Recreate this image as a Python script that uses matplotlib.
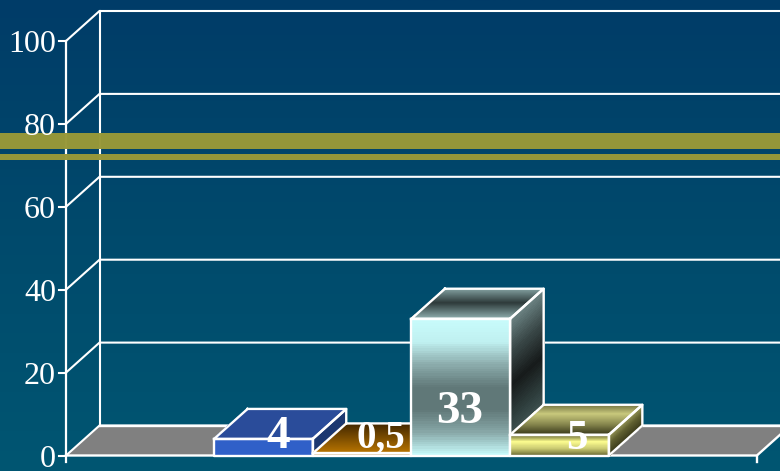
import numpy as np
import matplotlib
matplotlib.use("Agg")
import matplotlib.pyplot as plt
from matplotlib.collections import PolyCollection
from matplotlib.colors import LinearSegmentedColormap

# ---- data ----
labels = ["4", "0,5", "33", "5"]
values = [4, 0.5, 33, 5]
slots = [2, 3, 4, 5]
y_ticks = [0, 20, 40, 60, 80, 100]
n_slots = 7
band_ranges = [(74.0, 77.8), (71.4, 72.8)]

# ---- style ----
W, H = 780, 471
Y0, PX_Y = 455.5, 4.145
X0, PX_X = 66.0, 98.7
DX, DY = 33.5 / PX_X, 30 / PX_Y
LINE = "#ffffff"
SERIF = "Liberation Serif"

fig = plt.figure(figsize=(W / 100, H / 100), dpi=100)
ax = fig.add_axes([0, 0, 1, 1])
ax.set_xlim(-X0 / PX_X, (W - X0) / PX_X)
ax.set_ylim((Y0 - H) / PX_Y, Y0 / PX_Y)
ax.axis("off")

bg = LinearSegmentedColormap.from_list("bg", ["#003c68", "#004a6c", "#005672"])
ax.imshow(np.linspace(0, 1, 256)[:, None], cmap=bg, aspect="auto", zorder=0,
          extent=[*ax.get_xlim(), ax.get_ylim()[0], ax.get_ylim()[1]])
ax.set_xlim(-X0 / PX_X, (W - X0) / PX_X)
ax.set_ylim((Y0 - H) / PX_Y, Y0 / PX_Y)


def grad_quad(a, b, c, d, stops, z, n=60):
    """Quad with a colour ramp running from edge a-b to edge d-c."""
    cmap = LinearSegmentedColormap.from_list("q", stops)
    a, b, c, d = map(np.array, (a, b, c, d))
    ts = np.linspace(0, 1, n + 1)
    polys, cols = [], []
    for t0, t1 in zip(ts[:-1], ts[1:]):
        polys.append([a + (d - a) * t0, b + (c - b) * t0, b + (c - b) * t1, a + (d - a) * t1])
        cols.append(cmap((t0 + t1) / 2))
    ax.add_collection(PolyCollection(polys, facecolors=cols, edgecolors=cols, linewidths=0.6,
                                     antialiaseds=False, zorder=z))
    ax.plot([a[0], b[0], c[0], d[0], a[0]], [a[1], b[1], c[1], d[1], a[1]],
            color=LINE, lw=1.7, zorder=z + 0.1, solid_joinstyle="round")


face_styles = [
    dict(front=["#3060c8", "#3060c8"], top=["#2a4c9a", "#2a4c9a"], side=["#1c3870", "#1c3870"]),
    dict(front=["#b87400", "#8a5400"], top=["#3e2400", "#7a4c00", "#b87400"], side=["#5a3600", "#5a3600"]),
    dict(front=["#c8fcfc", "#c0f0f0", "#8cacac", "#607878", "#607878", "#88a8a8", "#c8fcfc"],
         top=["#8aa8a8", "#5a7070", "#2e3a3a", "#5a7070", "#8aa8a8"],
         side=["#6e8686", "#3a4848", "#161a1a", "#30403f", "#4e6262"]),
    dict(front=["#6a6a34", "#fdfd90", "#c8c870", "#6a6a34"],
         top=["#6a6a3c", "#c8c87c", "#8a8a50", "#3e3e1e"],
         side=["#a0a060", "#606030", "#3e3e1c"]),
]

# walls and grid
for v in y_ticks:
    ax.plot([0, DX, 8], [v, v + DY, v + DY], color=LINE, lw=1.5, zorder=2)
    ax.plot([-7 / PX_X, 0], [v, v], color=LINE, lw=1.5, zorder=2)
    ax.text(-10 / PX_X, v - 0.9, str(v), color="white", family=SERIF, fontsize=23,
            ha="right", va="center", zorder=8)
ax.plot([0, 0], [-1.6, 100], color=LINE, lw=1.6, zorder=2)
ax.plot([DX, DX], [DY, 100 + DY], color=LINE, lw=1.5, zorder=2)

# floor
ax.fill([0, n_slots, n_slots + DX, DX], [0, 0, DY, DY], facecolor="#808080",
        edgecolor="none", zorder=1.5)
ax.plot([0, n_slots, n_slots + DX], [0, 0, DY], color=LINE, lw=1.7, zorder=2.5)
ax.plot([n_slots, n_slots], [-1.6, 0], color=LINE, lw=1.7, zorder=2.5)
ax.plot([DX, n_slots + DX], [DY, DY], color=LINE, lw=1.7, zorder=1.8)

# bars
for i, (slot, val, st) in enumerate(zip(slots, values, face_styles)):
    l, r = slot - 0.5, slot + 0.5
    z = 3 + i * 0.5
    grad_quad((l + DX, val + DY), (r + DX, val + DY), (r, val), (l, val), st["top"], z)
    grad_quad((r, val), (r + DX, val + DY), (r + DX, DY), (r, 0), st["side"], z)
    grad_quad((l, val), (r, val), (r, 0), (l, 0), st["front"], z)

# band
for lo, hi in band_ranges:
    ax.axhspan(lo, hi, facecolor="#989838", edgecolor="none", alpha=0.98, zorder=6)

# value labels
label_heights = [4.5, 4.2, 10.6, 4.0]
label_shift = [15 / PX_X, 19 / PX_X, -1 / PX_X, 17 / PX_X]
label_sizes = [34, 28, 34, 31]
for slot, txt, h, dxl, fs in zip(slots, labels, label_heights, label_shift, label_sizes):
    ax.text(slot + dxl, h, txt, color="white", family=SERIF, weight="bold",
            fontsize=fs, ha="center", va="center", zorder=9)

fig.savefig("out.png", dpi=100)
